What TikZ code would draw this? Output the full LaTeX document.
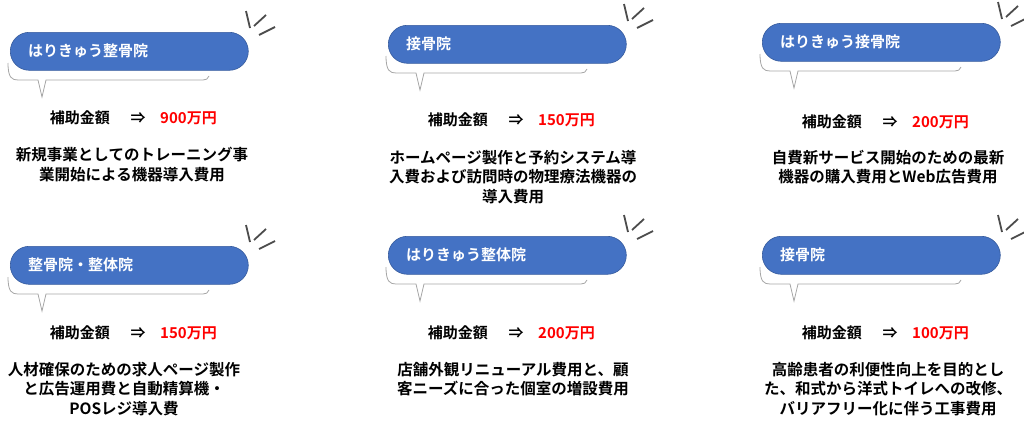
\documentclass[tikz,border=0pt]{standalone}
\usepackage{fontspec}
\newfontfamily\jp{Noto Sans CJK JP}[BoldFont={* Bold}]
\definecolor{pill}{HTML}{4472C4}
\tikzset{
 pillbox/.style={fill=pill,draw=pill!80!black,line width=0.6pt,rounded corners=19pt,minimum width=238pt,minimum height=38pt},
 lbl/.style={text=white,font=\jp\bfseries\fontsize{15}{17}\selectfont,anchor=west,inner sep=0pt},
 amt/.style={font=\jp\bfseries\fontsize{15}{17}\selectfont,inner sep=0pt},
 desc/.style={font=\jp\bfseries\fontsize{15.5}{19.5}\selectfont,align=center,inner sep=0pt},
 brk/.style={draw=gray!70,line width=0.8pt},
 spark/.style={draw=gray!60!black,line width=1.8pt}
}
\newcommand\mypanel[9]{%
 \begin{scope}[shift={(#1,#2)}]
  \draw[brk] (-2,31) .. controls (-2,46) and (2,48) .. (8,48) -- (28,48) -- (32,65) -- (36,48) -- (193,48) .. controls (196,48) and (198,47) .. (199,44);
  \node[pillbox,anchor=north west] (#9p) at (0,0) {};
  \node[lbl] (#9l) at (18,19) {#3};
  \draw[spark] (236,-21) -- (240,-4);
  \draw[spark] (244,-6) -- (256,-17);
  \draw[spark] (249,3) -- (265,-5);
 \end{scope}
 \node[amt,anchor=east] (#9a) at (#1+100,#4) {補助金額};
 \node[amt] (#9r) at (#1+128,#4) {⇒};
 \node[amt,text=red,anchor=west] (#9m) at (#1+150,#4) {#5};
 \node[desc,anchor=north] (#9d) at (#6,#7) {#8};
}
\begin{document}
\begin{tikzpicture}[x=1pt,y=-1pt]
\useasboundingbox (0,0) rectangle (1024,431);
\mypanel{10}{32}{はりきゅう整骨院}{118}{900万円}{132}{147}{新規事業としてのトレーニング事\\業開始による機器導入費用}{a}
\mypanel{388}{25}{接骨院}{120}{150万円}{513}{150}{ホームページ製作と予約システム導\\入費および訪問時の物理療法機器の\\導入費用}{b}
\mypanel{762}{23}{はりきゅう接骨院}{122}{200万円}{888}{150}{自費新サービス開始のための最新\\機器の購入費用とWeb広告費用}{c}
\mypanel{10}{246}{整骨院・整体院}{333}{150万円}{124}{362}{人材確保のための求人ページ製作\\と広告運用費と自動精算機・\\POSレジ導入費}{d}
\mypanel{388}{236}{はりきゅう整体院}{333}{200万円}{513}{362}{店舗外観リニューアル費用と、顧\\客ニーズに合った個室の増設費用}{e}
\mypanel{762}{236}{接骨院}{333}{100万円}{888}{362}{高齢患者の利便性向上を目的とし\\た、和式から洋式トイレへの改修、\\バリアフリー化に伴う工事費用}{f}
\end{tikzpicture}
\end{document}
